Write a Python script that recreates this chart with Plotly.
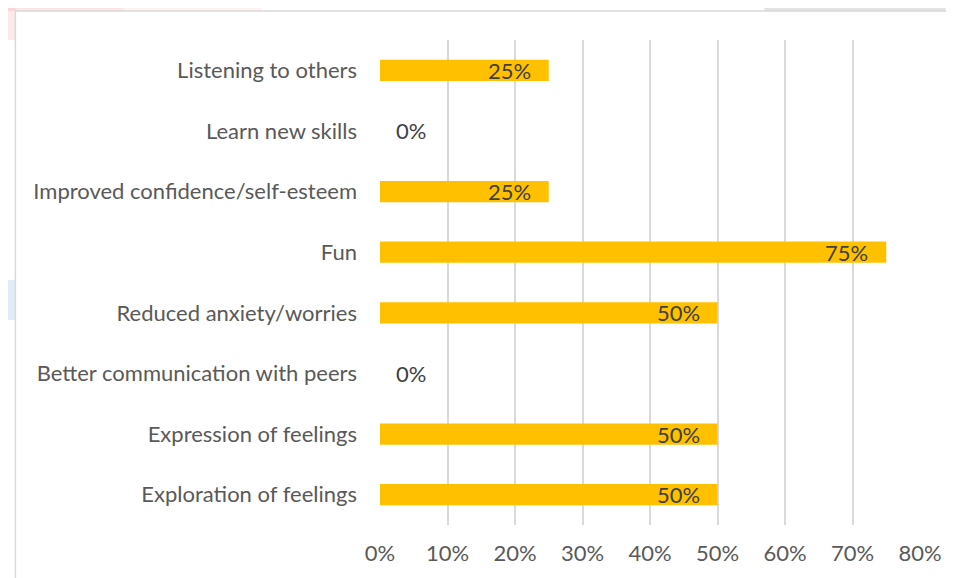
import plotly.graph_objects as go

categories = [
    "Listening to others",
    "Learn new skills",
    "Improved confidence/self-esteem",
    "Fun",
    "Reduced anxiety/worries",
    "Better communication with peers",
    "Expression of feelings",
    "Exploration of feelings",
]
shares = [0.25, 0.0, 0.25, 0.75, 0.50, 0.0, 0.50, 0.50]
tick_vals = [0, 0.1, 0.2, 0.3, 0.4, 0.5, 0.6, 0.7, 0.8]
tick_text = ["0%", "10%", "20%", "30%", "40%", "50%", "60%", "70%", "80%"]

# the page puts the figure 8px in from the top-left corner
OFF = 8
W, H = 954 - OFF, 578 - OFF
L, R, T, B = 380 - OFF, 34 - OFF, 40 - OFF, 53
FONT = "Lato, Open Sans, sans-serif"
SIZE = 22


def px_x(x):
    # x in window pixels -> paper coords
    return (x - OFF - L) / (W - L - R)


def px_y(y):
    return 1 - (y - OFF - T) / (H - T - B)


fig = go.Figure(
    go.Bar(
        x=shares,
        y=categories,
        orientation="h",
        marker=dict(color="#FFC000", line=dict(width=0)),
        width=0.35,
        hoverinfo="skip",
    )
)

# data labels: inside the bar end, or just right of the axis for 0%
for cat, v in zip(categories, shares):
    fig.add_annotation(
        x=v, y=cat, text=f"{v:.0%}", showarrow=False,
        xanchor="right" if v > 0 else "left",
        xshift=-16 if v > 0 else 14,
        font=dict(family=FONT, size=SIZE, color="#404040"),
    )

# blurred slide background peeking round the chart frame
bg = [
    (0, 0, 120, 11, "rgba(245,170,170,0.30)"),
    (120, 0, 260, 11, "rgba(245,185,185,0.18)"),
    (0, 0, 10, 40, "rgba(245,170,170,0.25)"),
    (0, 280, 10, 320, "rgba(170,200,235,0.35)"),
    (770, 0, 954, 11, "rgba(190,190,190,0.45)"),
]
for x0, y0, x1, y1, c in bg:
    fig.add_shape(type="rect", xref="paper", yref="paper", layer="below",
                  x0=px_x(x0), x1=px_x(x1), y0=px_y(y0), y1=px_y(y1),
                  fillcolor=c, line=dict(width=0))

# chart frame
fig.add_shape(type="rect", xref="paper", yref="paper", layer="below",
              x0=px_x(10), x1=px_x(970), y0=px_y(590), y1=px_y(11),
              fillcolor="white", line=dict(color="#D9D9D9", width=1.5))

fig.update_layout(
    width=W,
    height=H,
    margin=dict(l=L, r=R, t=T, b=B),
    paper_bgcolor="white",
    plot_bgcolor="rgba(0,0,0,0)",
    showlegend=False,
    font=dict(family=FONT, size=SIZE, color="#595959"),
    xaxis=dict(
        range=[0, 0.8],
        tickvals=tick_vals,
        ticktext=tick_text,
        showgrid=True,
        gridcolor="#D9D9D9",
        gridwidth=1.5,
        zeroline=False,
        showline=False,
        ticks="",
        ticklabelstandoff=13,
    ),
    yaxis=dict(
        autorange="reversed",
        showgrid=False,
        zeroline=False,
        showline=False,
        ticks="",
        ticklabelstandoff=22,
    ),
)

fig.write_html("out.html")
